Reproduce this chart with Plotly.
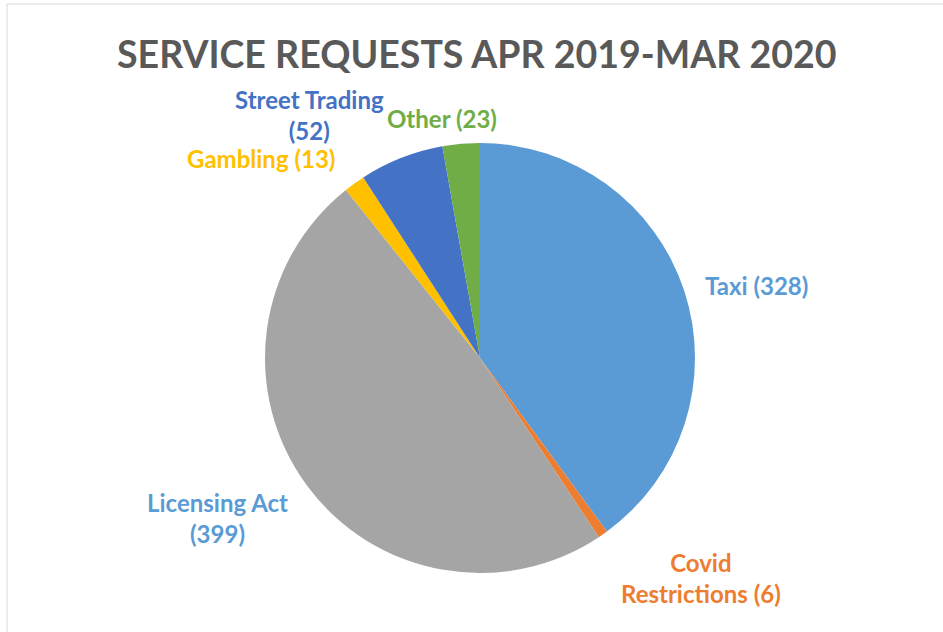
import plotly.graph_objects as go

categories = ["Taxi", "Covid Restrictions", "Licensing Act", "Gambling", "Street Trading", "Other"]
values = [328, 6, 399, 13, 52, 23]
slice_colors = ["#5B9BD5", "#ED7D31", "#A5A5A5", "#FFC000", "#4472C4", "#70AD47"]
label_colors = ["#5B9BD5", "#ED7D31", "#5B9BD5", "#FFC000", "#4472C4", "#70AD47"]
label_texts = ["Taxi (328)", "Covid<br>Restrictions (6)", "Licensing Act<br>(399)",
               "Gambling (13)", "Street Trading<br>(52)", "Other (23)"]
title_text = "SERVICE REQUESTS APR 2019-MAR 2020"

W, H = 943, 632
# label centres in pixels (layout only)
label_pos = [(756, 285), (701, 578), (217, 518), (261, 158), (309, 115), (442, 118)]

cx, cy, r = 480, 358, 215

fig = go.Figure(go.Pie(
    labels=categories, values=values, sort=False, direction="clockwise", rotation=0,
    marker=dict(colors=slice_colors, line=dict(color="white", width=0)),
    textinfo="none", hoverinfo="label+value", showlegend=False,
    domain=dict(x=[(cx - r) / W, (cx + r) / W], y=[(H - cy - r) / H, (H - cy + r) / H]),
))

annotations = []
for txt, col, (px, py) in zip(label_texts, label_colors, label_pos):
    annotations.append(dict(
        x=px / W, y=1 - py / H, xref="paper", yref="paper", text="<b>%s</b>" % txt,
        showarrow=False, xanchor="center", yanchor="middle", align="center",
        font=dict(family="Lato", size=24, color=col),
    ))
annotations.append(dict(
    x=476 / W, y=1 - 53 / H, xref="paper", yref="paper", text="<b>%s</b>" % title_text,
    showarrow=False, xanchor="center", yanchor="middle",
    font=dict(family="Lato", size=37.5, color="#595959"),
))

fig.update_layout(
    width=W, height=H, margin=dict(l=0, r=0, t=0, b=0),
    paper_bgcolor="white", plot_bgcolor="white",
    annotations=annotations,
    shapes=[dict(type="rect", xref="paper", yref="paper",
                 x0=7 / W, y0=1 - 4 / H, x1=1.05, y1=-0.05,
                 line=dict(color="#D9D9D9", width=1))],
)

fig.write_html("out.html", config={"displayModeBar": False},
               post_script="document.body.style.margin='0';")
